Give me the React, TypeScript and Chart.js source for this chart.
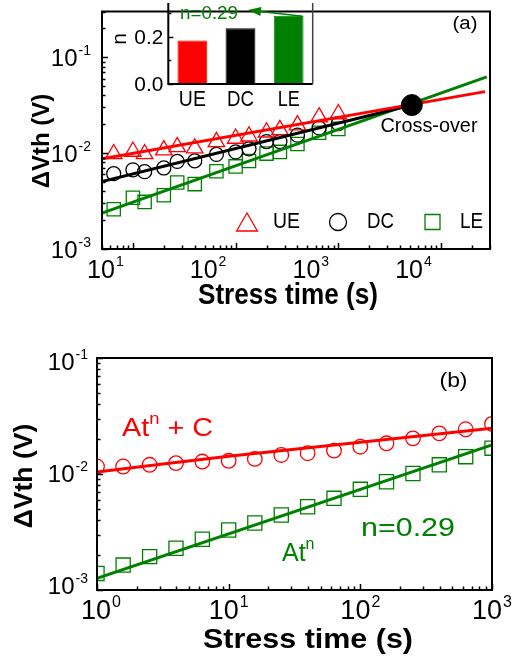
import React, { useEffect, useRef } from 'react';
import { Chart, registerables } from 'chart.js';
Chart.register(...registerables);

// ---------------- Panel (a) data ----------------
const A_TIME = [6.5, 10, 13, 20, 27, 40, 65, 100, 135, 200, 270, 400, 650, 1000];
const A_UE = [0.0098, 0.0104, 0.0098, 0.01075, 0.0116, 0.01125, 0.0131, 0.0142, 0.015, 0.0165, 0.0175, 0.0196, 0.0237, 0.0256];
const A_DC = [0.0061, 0.0067, 0.0064, 0.007, 0.0082, 0.0083, 0.0097, 0.0103, 0.0111, 0.0132, 0.0132, 0.0154, 0.0183, 0.0203];
const A_LE = [0.0026, 0.00343, 0.0031, 0.00363, 0.00494, 0.00475, 0.00647, 0.00727, 0.00827, 0.00989, 0.0103, 0.01245, 0.0163, 0.0179];
const A_FIT_UE_T = [5, 26800];
const A_FIT_UE_V = [0.00874, 0.0438];
const A_FIT_DC_T = [5, 5200];
const A_FIT_DC_V = [0.00506, 0.0318];
const A_FIT_LE_T = [5, 27900];
const A_FIT_LE_V = [0.00237, 0.0625];
const CROSS_T = [5200];
const CROSS_V = [0.0317];
const A_X_TICKS = [10, 100, 1000, 10000];
const A_X_EXP = ['1', '2', '3', '4'];
const A_Y_TICKS = [0.001, 0.01, 0.1];
const A_Y_EXP = ['-3', '-2', '-1'];
const A_LEGEND = ['UE', 'DC', 'LE'];

// ---------------- Inset data ----------------
const INSET_CATS = ['UE', 'DC', 'LE'];
const INSET_N = [0.185, 0.237, 0.29];
const INSET_Y_TICKS = [0.0, 0.2];
const INSET_Y_LABELS = ['0.0', '0.2'];

// ---------------- Panel (b) data ----------------
const B_TIME = [1, 1.58, 2.51, 3.98, 6.31, 10, 15.8, 25.1, 39.8, 63.1, 100, 158, 251, 398, 631, 1000];
const B_RED = [0.0116, 0.0116, 0.012, 0.0124, 0.0128, 0.013, 0.0135, 0.0146, 0.0151, 0.0159, 0.0172, 0.0184, 0.0203, 0.0224, 0.0243, 0.027];
const B_GREEN = [0.00139, 0.00164, 0.00194, 0.00229, 0.00274, 0.00329, 0.00378, 0.00443, 0.00522, 0.00617, 0.00738, 0.00858, 0.0101, 0.012, 0.0141, 0.0167];
const B_FIT_RED_T = [1, 10, 100, 1000];
const B_FIT_RED_V = [0.0104, 0.0142, 0.0188, 0.0248];
const B_FIT_GREEN_T = [1, 1000];
const B_FIT_GREEN_V = [0.00126, 0.0178];
const B_X_TICKS = [1, 10, 100, 1000];
const B_X_EXP = ['0', '1', '2', '3'];
const B_Y_TICKS = [0.001, 0.01, 0.1];
const B_Y_EXP = ['-3', '-2', '-1'];

const RED = '#ff0000';
const GREEN = '#008000';
const BLACK = '#000000';
const FONT = '"Liberation Sans", Arial, Helvetica, sans-serif';
const B_TOP = 320;
const INSET_LEFT = 100;

const pts = (xs: number[], ys: number[]) => xs.map((x, i) => ({ x, y: ys[i] }));

type TOpt = { size: number; bold?: boolean; color?: string; align?: CanvasTextAlign; w?: number; rot?: number };
function drawText(ctx: CanvasRenderingContext2D, s: string, x: number, y: number, o: TOpt) {
  ctx.save();
  ctx.font = `${o.bold ? 'bold ' : ''}${o.size}px ${FONT}`;
  const mw = ctx.measureText(s).width;
  const sx = o.w ? o.w / mw : 1;
  ctx.translate(x, y);
  if (o.rot) ctx.rotate(o.rot);
  ctx.scale(sx, 1);
  ctx.fillStyle = o.color || BLACK;
  ctx.textAlign = o.align || 'center';
  ctx.textBaseline = 'middle';
  ctx.fillText(s, 0, 0);
  ctx.restore();
  return mw * sx;
}

function drawPow(ctx: CanvasRenderingContext2D, base: string, exp: string, x: number, y: number, size: number, expSize: number, align: 'center' | 'right') {
  ctx.save();
  ctx.font = `${size}px ${FONT}`;
  const wb = ctx.measureText(base).width;
  ctx.font = `${expSize}px ${FONT}`;
  const we = ctx.measureText(exp).width;
  const total = wb + we + 1;
  const x0 = align === 'center' ? x - total / 2 : x - total;
  ctx.fillStyle = BLACK;
  ctx.textBaseline = 'middle';
  ctx.textAlign = 'left';
  ctx.font = `${size}px ${FONT}`;
  ctx.fillText(base, x0, y);
  ctx.font = `${expSize}px ${FONT}`;
  ctx.fillText(exp, x0 + wb + 1, y - size * 0.34);
  ctx.restore();
}

type Part = { t: string; s: number; up?: number };
function drawRich(ctx: CanvasRenderingContext2D, parts: Part[], x: number, y: number, color: string, sx: number) {
  ctx.save();
  ctx.translate(x, y);
  ctx.scale(sx, 1);
  ctx.fillStyle = color;
  ctx.textBaseline = 'middle';
  ctx.textAlign = 'left';
  let cx = 0;
  parts.forEach((p) => {
    ctx.font = `${p.s}px ${FONT}`;
    ctx.fillText(p.t, cx, -(p.up || 0));
    cx += ctx.measureText(p.t).width;
  });
  ctx.restore();
}

function logValues(min: number, max: number) {
  const majors: number[] = [];
  const minors: number[] = [];
  for (let e = Math.floor(Math.log10(min)); e <= Math.ceil(Math.log10(max)); e++) {
    for (let m = 1; m < 10; m++) {
      const v = m * Math.pow(10, e);
      if (v < min * 0.999 || v > max * 1.001) continue;
      (m === 1 ? majors : minors).push(v);
    }
  }
  return { majors, minors };
}

function drawLogTicks(ctx: CanvasRenderingContext2D, chart: any, majLen: number, minLen: number) {
  const ca = chart.chartArea;
  const { x, y } = chart.scales;
  ctx.save();
  ctx.strokeStyle = BLACK;
  ctx.lineWidth = 1.5;
  ctx.beginPath();
  const xv = logValues(x.min, x.max);
  [...xv.majors.map((v) => [v, majLen]), ...xv.minors.map((v) => [v, minLen])].forEach(([v, l]) => {
    const px = Math.round(x.getPixelForValue(v)) + 0.5;
    ctx.moveTo(px, ca.bottom);
    ctx.lineTo(px, ca.bottom - l);
  });
  const yv = logValues(y.min, y.max);
  [...yv.majors.map((v) => [v, majLen]), ...yv.minors.map((v) => [v, minLen])].forEach(([v, l]) => {
    const py = Math.round(y.getPixelForValue(v)) + 0.5;
    ctx.moveTo(ca.left, py);
    ctx.lineTo(ca.left + l, py);
  });
  ctx.stroke();
  ctx.lineWidth = 2;
  ctx.strokeRect(ca.left, ca.top, ca.right - ca.left, ca.bottom - ca.top);
  ctx.restore();
}

function marker(ctx: CanvasRenderingContext2D, style: string, x: number, y: number, r: number, color: string, lw: number) {
  ctx.save();
  ctx.strokeStyle = color;
  ctx.lineWidth = lw;
  ctx.beginPath();
  if (style === 'triangle') {
    for (let k = 0; k < 3; k++) {
      const a = (k * 2 * Math.PI) / 3;
      const px = x + Math.sin(a) * r;
      const py = y - Math.cos(a) * r;
      if (k === 0) ctx.moveTo(px, py);
      else ctx.lineTo(px, py);
    }
    ctx.closePath();
  } else if (style === 'circle') {
    ctx.arc(x, y, r, 0, Math.PI * 2);
  } else {
    const s = r * Math.SQRT1_2;
    ctx.rect(x - s, y - s, 2 * s, 2 * s);
  }
  ctx.stroke();
  ctx.restore();
}

const decorA = {
  id: 'decorA',
  afterDraw(chart: any) {
    const ctx = chart.ctx as CanvasRenderingContext2D;
    const { x, y } = chart.scales;
    drawLogTicks(ctx, chart, 6, 3.5);
    A_X_TICKS.forEach((v, i) => drawPow(ctx, '10', A_X_EXP[i], x.getPixelForValue(v) - 27.5, 271, 25, 14, 'center'));
    A_Y_TICKS.forEach((v, i) => drawPow(ctx, '10', A_Y_EXP[i], 91, y.getPixelForValue(v) + 2, 24, 14, 'right'));
    drawText(ctx, 'Stress time (s)', 288, 296, { size: 30, bold: true, w: 180 });
    drawText(ctx, 'ΔVth (V)', 42, 141, { size: 24, bold: true, rot: -Math.PI / 2 });
    drawText(ctx, '(a)', 465, 24, { size: 18, w: 25 });
    drawText(ctx, 'Cross-over', 429, 126, { size: 21, w: 97 });
    // legend
    const styles = ['triangle', 'circle', 'rect'];
    const colors = [RED, BLACK, GREEN];
    const mx = [247, 338, 432.5];
    const my = [225, 222, 222];
    const mr = [12, 8.5, 10.6];
    const tx = [273, 367, 460];
    const tw = [27, 27, 23];
    A_LEGEND.forEach((lab, i) => {
      marker(ctx, styles[i], mx[i], my[i], mr[i], colors[i], 1.3);
      drawText(ctx, lab, tx[i], 222, { size: 22, align: 'left', w: tw[i] });
    });
  },
};

const decorInset = {
  id: 'decorInset',
  afterDraw(chart: any) {
    const ctx = chart.ctx as CanvasRenderingContext2D;
    const ca = chart.chartArea;
    const { x, y } = chart.scales;
    ctx.save();
    ctx.strokeStyle = BLACK;
    ctx.lineWidth = 1.5;
    ctx.beginPath();
    [0, 0.1, 0.2, 0.3].forEach((v, i) => {
      const py = Math.round(y.getPixelForValue(v)) + 0.5;
      const l = i % 2 === 0 ? 5 : 3;
      ctx.moveTo(ca.left, py);
      ctx.lineTo(ca.left + l, py);
    });
    ctx.stroke();
    ctx.lineWidth = 2;
    ctx.beginPath();
    ctx.moveTo(ca.left, ca.top);
    ctx.lineTo(ca.left, ca.bottom);
    ctx.lineTo(ca.right, ca.bottom);
    ctx.stroke();
    ctx.strokeStyle = '#444';
    ctx.lineWidth = 1.5;
    ctx.beginPath();
    ctx.moveTo(ca.right, ca.top);
    ctx.lineTo(ca.right, ca.bottom);
    ctx.stroke();
    ctx.restore();
    INSET_Y_TICKS.forEach((v, i) => drawText(ctx, INSET_Y_LABELS[i], ca.left - 5, y.getPixelForValue(v) + 1, { size: 21, align: 'right', w: 29 }));
    const cw = [27, 27, 22];
    INSET_CATS.forEach((c, i) => drawText(ctx, c, x.getPixelForValue(i), 100, { size: 22, w: cw[i] }));
    drawText(ctx, 'n', ca.left - 48, 39, { size: 21, rot: -Math.PI / 2 });
    const tw = drawText(ctx, 'n=0.29', 209 - INSET_LEFT, 14, { size: 18, color: GREEN, w: 58 });
    const bar = chart.getDatasetMeta(0).data[2];
    const tailX = bar.x + bar.width / 2 - 1;
    const tailY = bar.y + 0.5;
    const headX = 209 - INSET_LEFT + tw / 2 + 10;
    const headY = 10;
    const ang = Math.atan2(headY - tailY, headX - tailX);
    ctx.save();
    ctx.strokeStyle = GREEN;
    ctx.fillStyle = GREEN;
    ctx.lineWidth = 1.5;
    ctx.beginPath();
    ctx.moveTo(tailX, tailY);
    ctx.lineTo(headX - Math.cos(ang) * 8, headY - Math.sin(ang) * 8);
    ctx.stroke();
    ctx.beginPath();
    ctx.moveTo(headX, headY);
    ctx.lineTo(headX - Math.cos(ang) * 13 + Math.sin(ang) * 4.5, headY - Math.sin(ang) * 13 - Math.cos(ang) * 4.5);
    ctx.lineTo(headX - Math.cos(ang) * 13 - Math.sin(ang) * 4.5, headY - Math.sin(ang) * 13 + Math.cos(ang) * 4.5);
    ctx.closePath();
    ctx.fill();
    ctx.restore();
  },
};

const decorB = {
  id: 'decorB',
  afterDraw(chart: any) {
    const ctx = chart.ctx as CanvasRenderingContext2D;
    const { x, y } = chart.scales;
    drawLogTicks(ctx, chart, 6, 3.5);
    B_X_TICKS.forEach((v, i) => drawPow(ctx, '10', B_X_EXP[i], x.getPixelForValue(v) + (i === 0 ? 4 : 0), 612 - B_TOP, 27, 16, 'center'));
    B_Y_TICKS.forEach((v, i) => drawPow(ctx, '10', B_Y_EXP[i], 88, y.getPixelForValue(v) + (i === 2 ? 5 : i === 0 ? -3 : 1), 24, 14, 'right'));
    drawText(ctx, 'Stress time (s)', 308, 640 - B_TOP, { size: 28, bold: true, w: 210 });
    drawText(ctx, 'ΔVth (V)', 24.5, 476 - B_TOP, { size: 26.5, bold: true, rot: -Math.PI / 2 });
    drawText(ctx, '(b)', 453.5, 381 - B_TOP, { size: 21, w: 28 });
    drawRich(ctx, [{ t: 'At', s: 25 }, { t: 'n', s: 16, up: 9 }, { t: ' + C', s: 25 }], 122, 429 - B_TOP, RED, 1.15);
    drawText(ctx, 'n=0.29', 408, 529 - B_TOP, { size: 25, color: GREEN, w: 94 });
    drawRich(ctx, [{ t: 'At', s: 25 }, { t: 'n', s: 16, up: 9 }], 282, 554 - B_TOP, GREEN, 1.0);
  },
};

const T = 'rgba(0,0,0,0)';
const hiddenScale = (w: number | null, h: number | null, extra: any) => ({
  ...extra,
  ticks: { display: false },
  grid: { display: false },
  border: { display: false },
  afterFit: (s: any) => {
    if (w !== null) s.width = w;
    if (h !== null) s.height = h;
  },
});

const baseOpts = {
  animation: false as const,
  responsive: false,
  events: [] as any[],
  plugins: { legend: { display: false }, tooltip: { enabled: false } },
};

function fitDs(xs: number[], ys: number[], color: string, tension = 0) {
  return { data: pts(xs, ys), showLine: true, borderColor: color, borderWidth: 3, pointRadius: 0, tension, fill: false };
}
function markDs(xs: number[], ys: number[], color: string, style: string, r: number) {
  return {
    data: pts(xs, ys),
    showLine: false,
    pointStyle: style,
    pointRadius: r,
    pointBorderColor: color,
    pointBackgroundColor: T,
    pointBorderWidth: 1.3,
    borderColor: color,
    backgroundColor: T,
  };
}

export default function App() {
  const refA = useRef<HTMLCanvasElement>(null);
  const refI = useRef<HTMLCanvasElement>(null);
  const refB = useRef<HTMLCanvasElement>(null);

  useEffect(() => {
    const chartA = new Chart(refA.current!, {
      type: 'scatter',
      data: {
        datasets: [
          { data: pts(CROSS_T, CROSS_V), pointRadius: 10.5, pointBackgroundColor: BLACK, pointBorderColor: BLACK, showLine: false },
          fitDs(A_FIT_UE_T, A_FIT_UE_V, RED),
          fitDs(A_FIT_DC_T, A_FIT_DC_V, BLACK),
          fitDs(A_FIT_LE_T, A_FIT_LE_V, GREEN),
          markDs(A_TIME, A_UE, RED, 'triangle', 9.5),
          markDs(A_TIME, A_DC, BLACK, 'circle', 7),
          markDs(A_TIME, A_LE, GREEN, 'rect', 9.4),
        ] as any,
      },
      options: {
        ...baseOpts,
        layout: { padding: { left: 0, right: 25, top: 3, bottom: 0 } },
        scales: {
          x: hiddenScale(null, 71, { type: 'logarithmic', min: 5, max: 30000 }),
          y: hiddenScale(102, null, { type: 'logarithmic', min: 0.001, max: 0.3 }),
        },
      } as any,
      plugins: [decorA],
    });

    const chartI = new Chart(refI.current!, {
      type: 'bar',
      data: {
        labels: INSET_CATS,
        datasets: [
          {
            data: INSET_N,
            backgroundColor: [RED, BLACK, GREEN],
            borderColor: [RED, BLACK, GREEN],
            borderWidth: 1,
            barPercentage: 0.62,
            categoryPercentage: 1,
          },
        ],
      },
      options: {
        ...baseOpts,
        layout: { padding: { left: 0, right: 17.3, top: 3, bottom: 0 } },
        scales: {
          x: hiddenScale(null, 36, {}),
          y: hiddenScale(68.3, null, { min: 0, max: 0.344 }),
        },
      } as any,
      plugins: [decorInset],
    });

    const chartB = new Chart(refB.current!, {
      type: 'scatter',
      data: {
        datasets: [
          fitDs(B_FIT_RED_T, B_FIT_RED_V, RED, 0.3),
          fitDs(B_FIT_GREEN_T, B_FIT_GREEN_V, GREEN),
          markDs(B_TIME, B_RED, RED, 'circle', 7.3),
          markDs(B_TIME, B_GREEN, GREEN, 'rect', 10),
        ] as any,
      },
      options: {
        ...baseOpts,
        layout: { padding: { left: 0, right: 23, top: 358 - B_TOP, bottom: 0 } },
        scales: {
          x: hiddenScale(null, 341 - (590 - B_TOP), { type: 'logarithmic', min: 1, max: 1000 }),
          y: hiddenScale(97, null, { type: 'logarithmic', min: 0.001, max: 0.1 }),
        },
      } as any,
      plugins: [decorB],
    });

    return () => {
      chartA.destroy();
      chartI.destroy();
      chartB.destroy();
    };
  }, []);

  return (
    <div style={{ position: 'absolute', left: 0, top: 0, width: 515, height: 661, background: '#fff' }}>
      <canvas ref={refA} width={515} height={320} style={{ position: 'absolute', left: 0, top: 0 }} />
      <canvas ref={refB} width={515} height={341} style={{ position: 'absolute', left: 0, top: B_TOP }} />
      <canvas ref={refI} width={230} height={120} style={{ position: 'absolute', left: INSET_LEFT, top: 0 }} />
    </div>
  );
}
